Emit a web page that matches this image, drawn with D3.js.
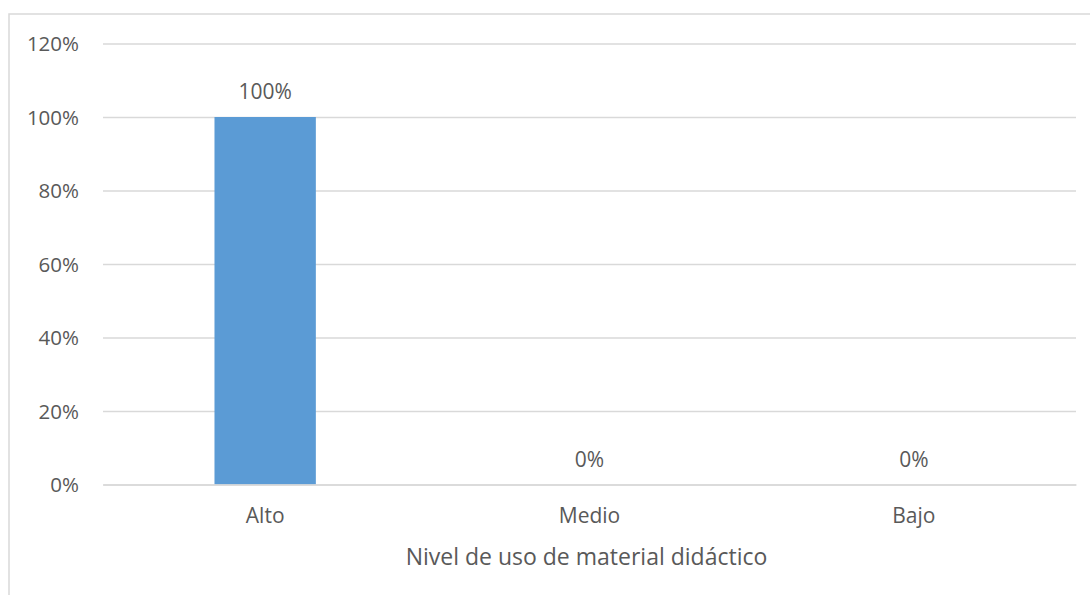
<!DOCTYPE html>
<html>
<head>
<meta charset="utf-8">
<script src="https://cdn.jsdelivr.net/npm/d3@7"></script>
<style>
  html, body { margin: 0; padding: 0; background: #fff; }
  svg { display: block; }
  text { font-family: "Open Sans", sans-serif; fill: #595959; }
</style>
</head>
<body>
<svg id="chart" width="1090" height="595"></svg>
<script>
const categories = ["Alto", "Medio", "Bajo"];
const values = [1.00, 0.00, 0.00];
const dataLabels = ["100%", "0%", "0%"];
const yTicks = [0, 0.2, 0.4, 0.6, 0.8, 1.0, 1.2];
const xTitle = "Nivel de uso de material didáctico";

const svg = d3.select("#chart");
const plot = { left: 103, right: 1076, top: 43.5, bottom: 484.5 };

// outer chart border (extends beyond image on right/bottom)
svg.append("rect")
  .attr("x", 9).attr("y", 14)
  .attr("width", 1100).attr("height", 700)
  .attr("fill", "none").attr("stroke", "#D9D9D9").attr("stroke-width", 1.5);

const x = d3.scaleBand().domain(categories).range([plot.left, plot.right]).paddingInner(0.6875).paddingOuter(0.34375);
const y = d3.scaleLinear().domain([0, 1.2]).range([plot.bottom, plot.top]);

// gridlines
const yAxis = d3.axisLeft(y).tickValues(yTicks).tickFormat(d3.format(".0%"))
  .tickSize(-(plot.right - plot.left)).tickPadding(24);
const gy = svg.append("g").attr("transform", `translate(${plot.left},0)`).call(yAxis);
gy.select(".domain").remove();
gy.selectAll(".tick line").attr("stroke", "#D9D9D9").attr("stroke-width", 1.5);
gy.selectAll(".tick text").attr("font-size", 20.5).attr("fill", "#595959")
  .attr("font-family", "Open Sans, sans-serif").attr("dy", "0.36em");

// bars
svg.append("g").selectAll("rect").data(values).join("rect")
  .attr("x", (d, i) => x(categories[i]))
  .attr("y", d => y(d))
  .attr("width", x.bandwidth())
  .attr("height", d => y(0) - y(d))
  .attr("fill", "#5B9BD5");

// x axis
const xAxis = d3.axisBottom(x).tickSize(0).tickPadding(23.5);
const gx = svg.append("g").attr("transform", `translate(0,${plot.bottom})`).call(xAxis);
gx.select(".domain").attr("stroke", "#D9D9D9").attr("stroke-width", 1.5);
gx.selectAll(".tick text").attr("font-size", 21).attr("fill", "#595959")
  .attr("font-family", "Open Sans, sans-serif");

// data labels
svg.append("g").selectAll("text").data(values).join("text")
  .attr("x", (d, i) => x(categories[i]) + x.bandwidth() / 2)
  .attr("y", d => y(d) - 18)
  .attr("text-anchor", "middle")
  .attr("font-size", 21)
  .text((d, i) => dataLabels[i]);

// axis title
svg.append("text")
  .attr("x", (plot.left + plot.right) / 2 - 3)
  .attr("y", 565)
  .attr("text-anchor", "middle")
  .attr("font-size", 23)
  .text(xTitle);
</script>
</body>
</html>
